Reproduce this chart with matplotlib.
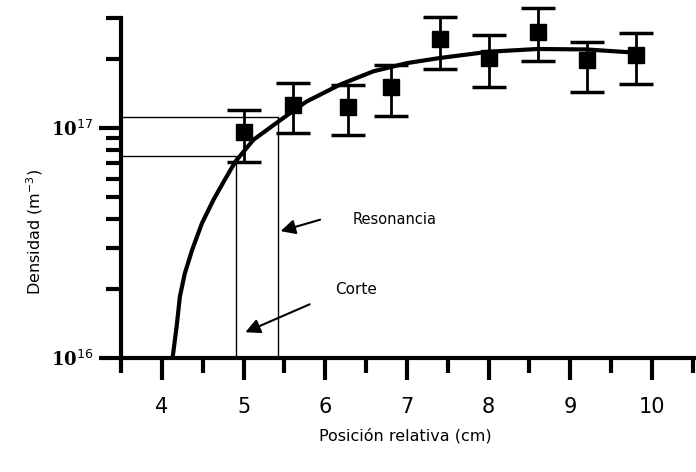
import numpy as np
import matplotlib
matplotlib.use("Agg")
import matplotlib.pyplot as plt
from matplotlib.ticker import LogLocator, FixedLocator, NullFormatter

# medidas (posicion en cm, densidad en m^-3)
pos = [5.0, 5.6, 6.28, 6.8, 7.4, 8.0, 8.6, 9.2, 9.8]
dens = [0.96e17, 1.26e17, 1.23e17, 1.51e17, 2.44e17, 2.01e17, 2.61e17, 1.98e17, 2.08e17]
err_hi = [1.2e17, 1.57e17, 1.54e17, 1.88e17, 3.04e17, 2.54e17, 3.3e17, 2.37e17, 2.59e17]
err_lo = [0.71e17, 0.95e17, 0.93e17, 1.13e17, 1.8e17, 1.51e17, 1.95e17, 1.43e17, 1.55e17]

# curva ajustada
curve_x = [4.13, 4.18, 4.22, 4.28, 4.37, 4.49, 4.63, 4.77, 4.90, 5.12, 5.45, 5.77,
           6.18, 6.59, 7.0, 7.4, 8.0, 8.6, 9.2, 9.8]
curve_y = [1.0e16, 1.37e16, 1.85e16, 2.33e16, 2.95e16, 3.85e16, 4.86e16, 5.95e16,
           7.14e16, 8.87e16, 1.08e17, 1.3e17, 1.54e17, 1.76e17, 1.91e17, 2.01e17,
           2.14e17, 2.2e17, 2.19e17, 2.12e17]

# corte y resonancia
x_corte, n_corte = 4.91, 0.756e17
x_res, n_res = 5.42, 1.116e17

xmin, xmax = 3.5, 10.54
ymin, ymax = 1e16, 3e17

fnt = 'DejaVu Sans'

fig = plt.figure(figsize=(6.96, 4.72), dpi=100)
ax = fig.add_axes([0.174, 0.2415, 0.826, 0.7204])

ax.plot(curve_x, curve_y, color='black', lw=3, solid_capstyle='butt', solid_joinstyle='round')

yerr = [np.array(dens) - np.array(err_lo), np.array(err_hi) - np.array(dens)]
ax.errorbar(pos, dens, yerr=yerr, fmt='s', color='black', ms=12, elinewidth=2,
            capsize=12, capthick=2.5, clip_on=False)

# lineas finas
ax.plot([xmin, x_corte, x_corte], [n_corte, n_corte, ymin], color='black', lw=1)
ax.plot([xmin, x_res, x_res], [n_res, n_res, ymin], color='black', lw=1)

ax.annotate('', xy=(x_res, 3.53e16), xytext=(5.97, 4.02e16),
            arrowprops=dict(arrowstyle='-|>', color='black', lw=1.5, mutation_scale=22))
ax.text(6.33, 4.0e16, 'Resonancia', fontsize=10.5, family=fnt, va='center', ha='left')
ax.annotate('', xy=(4.99, 1.28e16), xytext=(5.84, 1.73e16),
            arrowprops=dict(arrowstyle='-|>', color='black', lw=1.5, mutation_scale=22))
ax.text(6.12, 1.98e16, 'Corte', fontsize=11, family=fnt, va='center', ha='left')

ax.set_yscale('log')
ax.set_xlim(xmin, xmax)
ax.set_ylim(ymin, ymax)

ax.spines['top'].set_visible(False)
ax.spines['right'].set_visible(False)
ax.spines['left'].set_linewidth(3)
ax.spines['bottom'].set_linewidth(3)

ax.xaxis.set_major_locator(FixedLocator([4, 5, 6, 7, 8, 9, 10]))
ax.xaxis.set_minor_locator(FixedLocator([3.5, 4.5, 5.5, 6.5, 7.5, 8.5, 9.5, 10.5]))
ax.yaxis.set_major_locator(FixedLocator([1e16, 1e17]))
ax.yaxis.set_minor_locator(LogLocator(base=10, subs=np.arange(2, 10)))
ax.yaxis.set_minor_formatter(NullFormatter())
ax.set_yticklabels(['10$^{16}$', '10$^{17}$'], fontfamily='DejaVu Serif', fontweight='bold', fontsize=13)
ax.set_xticklabels(['4', '5', '6', '7', '8', '9', '10'], family=fnt, fontsize=15)

ax.tick_params(axis='both', which='major', direction='out', length=16, width=3)
ax.tick_params(axis='both', which='minor', direction='out', length=11, width=3)
ax.tick_params(axis='x', pad=12)
ax.tick_params(axis='y', pad=4)

ax.set_xlabel('Posición relativa (cm)', family=fnt, fontsize=11.5)
ax.xaxis.set_label_coords(0.494, -0.206)
ax.set_ylabel('Densidad (m$^{-3}$)', family=fnt, fontsize=11.5, va='center')
ax.yaxis.set_label_coords(-0.15, 0.37)

fig.savefig('out.png', dpi=100)
